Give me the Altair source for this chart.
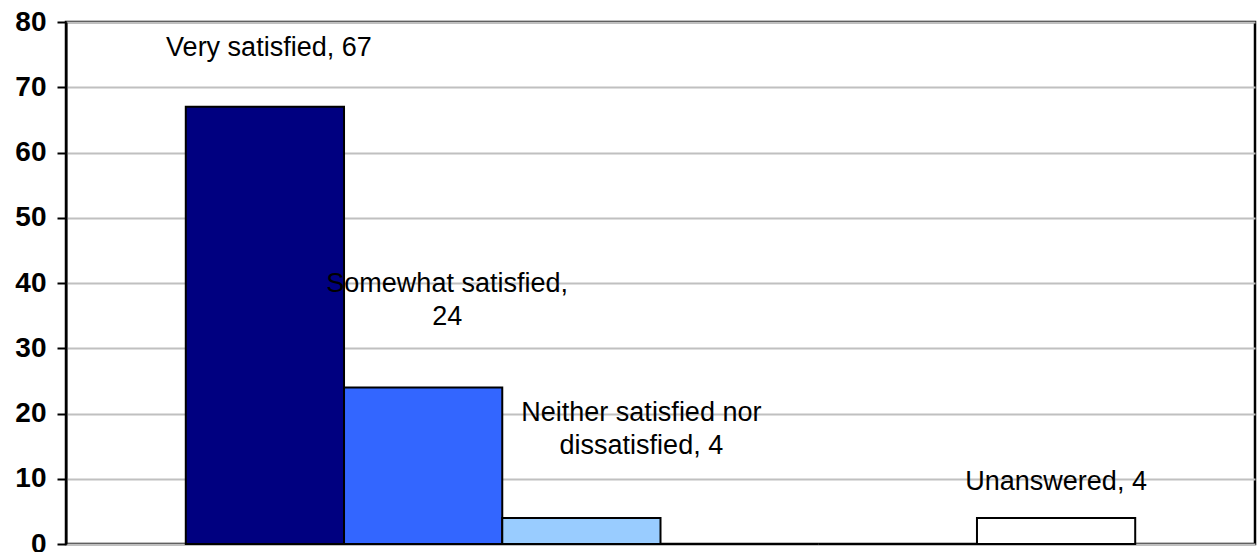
import altair as alt
import pandas as pd

categories = ["Very satisfied", "Somewhat satisfied", "Neither satisfied nor dissatisfied",
              "Somewhat dissatisfied", "Very dissatisfied", "Unanswered"]
values = [67, 24, 4, 0, 0, 4]
colors = ["#000080", "#3366FF", "#99CCFF", "#00CCFF", "#CCFFFF", "#FFFFFF"]
label_lines = [["Very satisfied, 67"], ["Somewhat satisfied,", "24"],
               ["Neither satisfied nor", "dissatisfied, 4"], None, None, ["Unanswered, 4"]]
y_ticks = [0, 10, 20, 30, 40, 50, 60, 70, 80]

# label placement (style): dx, dy in pixels relative to bar top centre
label_style = {0: (4, -59), 1: (24, -103), 2: (60, -105), 5: (0, -36)}

df = pd.DataFrame({"category": categories, "value": values})

xscale = alt.Scale(paddingInner=0, paddingOuter=0.757)
yscale = alt.Scale(domain=[0, 80], nice=False, zero=True)

x = alt.X("category:N", sort=categories, title=None, scale=xscale,
          axis=alt.Axis(labels=False, ticks=False, domain=False, grid=False))
y = alt.Y("value:Q", title=None, scale=yscale,
          axis=alt.Axis(values=y_ticks, grid=True, gridColor="#c0c0c0", gridWidth=2,
                        domain=True, domainColor="black", domainWidth=2,
                        tickColor="black", tickWidth=2, tickSize=9,
                        labelFont="Liberation Sans", labelFontSize=28, labelFontWeight="bold",
                        labelColor="black", labelPadding=11))

bars = alt.Chart(df).mark_bar(stroke="black", strokeWidth=2).encode(
    x=x, y=y,
    color=alt.Color("category:N", scale=alt.Scale(domain=categories, range=colors), legend=None),
)

layers = [bars]
for i, (ddx, ddy) in label_style.items():
    sub = pd.DataFrame({"category": [categories[i]], "value": [values[i]], "label": [label_lines[i]]})
    t = alt.Chart(sub).mark_text(font="Liberation Sans", fontSize=27, color="black",
                                 baseline="middle", align="center", dx=ddx, dy=ddy,
                                 lineHeight=33).encode(
        x=alt.X("category:N", sort=categories, scale=xscale),
        y=alt.Y("value:Q", scale=yscale),
        text="label",
    )
    layers.append(t)

chart = alt.layer(*layers).properties(
    width=1189, height=522,
    autosize=alt.AutoSizeParams(type="none"),
    padding={"left": 66, "top": 22, "right": 4, "bottom": 8},
).configure(background="white").configure_view(stroke="#000000", strokeWidth=2.5, strokeOpacity=1)

chart.save("out.html", embed_options={"renderer": "svg", "actions": False})
